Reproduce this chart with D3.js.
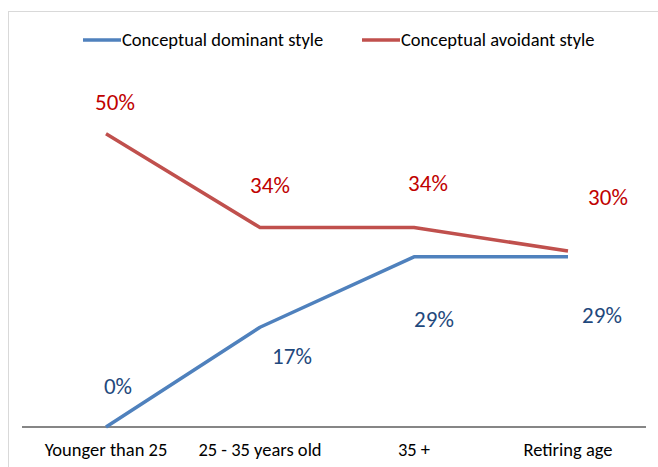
<!DOCTYPE html>
<html>
<head>
<meta charset="utf-8">
<script src="https://cdn.jsdelivr.net/npm/d3@7"></script>
<style>
    body { margin: 0; background: #fff; }
    svg { display: block; font-family: Carlito, Calibri, Lato, sans-serif; }
</style>
</head>
<body>
<div id="chart"></div>
<script>
var categories = ['Younger than 25', '25 - 35 years old', '35 +', 'Retiring age'];
var seriesNames = ['Conceptual dominant style', 'Conceptual avoidant style'];
var dominantValues = [0, 17, 29, 29];
var avoidantValues = [50, 34, 34, 30];

// hand placed label offsets (px) as in the original
var dominantLabelOffsets = [[12, -33], [32, 37], [20, 70], [34, 66]];
var avoidantLabelOffsets = [[9, -24], [10, -35], [14, -37], [40, -46]];

var width = 658,
    height = 467;

var svg = d3.select('#chart')
    .append('svg')
    .attr('width', width)
    .attr('height', height);

// chart border
svg.append('rect')
    .attr('x', 8.5)
    .attr('y', 11.5)
    .attr('width', 700)
    .attr('height', 500)
    .attr('fill', 'none')
    .attr('stroke', '#d9d9d9');

var x = d3.scalePoint()
    .domain(categories)
    .range([106, 568]);

var y = d3.scaleLinear()
    .domain([0, 60])
    .range([427, 75]);

// x axis line
svg.append('line')
    .attr('x1', 22)
    .attr('x2', 646)
    .attr('y1', y(0))
    .attr('y2', y(0))
    .attr('stroke', '#868686')
    .attr('stroke-width', 2);

svg.selectAll('.cat')
    .data(categories)
    .enter()
    .append('text')
    .attr('class', 'cat')
    .attr('x', function(d) { return x(d); })
    .attr('y', 456)
    .attr('text-anchor', 'middle')
    .attr('font-size', 18.5)
    .attr('fill', '#000')
    .text(function(d) { return d; });

var line = d3.line()
    .x(function(d, i) { return x(categories[i]); })
    .y(function(d) { return y(d); });

var series = [
    { name: seriesNames[0], values: dominantValues, color: '#4f81bd', labelColor: '#1f497d', offsets: dominantLabelOffsets },
    { name: seriesNames[1], values: avoidantValues, color: '#c0504d', labelColor: '#c00000', offsets: avoidantLabelOffsets }
];

series.forEach(function(s) {
    svg.append('path')
        .datum(s.values)
        .attr('d', line)
        .attr('fill', 'none')
        .attr('stroke', s.color)
        .attr('stroke-width', 3.5)
        .attr('stroke-linejoin', 'round');

    svg.selectAll(null)
        .data(s.values)
        .enter()
        .append('text')
        .attr('x', function(d, i) { return x(categories[i]) + s.offsets[i][0]; })
        .attr('y', function(d, i) { return y(d) + s.offsets[i][1]; })
        .attr('text-anchor', 'middle')
        .attr('font-size', 23)
        .attr('fill', s.labelColor)
        .text(function(d) { return d + '%'; });
});

// legend
var legendX = [83, 362];
var legend = svg.selectAll('.legend')
    .data(series)
    .enter()
    .append('g')
    .attr('class', 'legend')
    .attr('transform', function(d, i) { return 'translate(' + legendX[i] + ',40)'; });

legend.append('line')
    .attr('x1', 0)
    .attr('x2', 38)
    .attr('stroke', function(d) { return d.color; })
    .attr('stroke-width', 3.5);

legend.append('text')
    .attr('x', 39)
    .attr('y', 6)
    .attr('font-size', 18.5)
    .attr('fill', '#000')
    .text(function(d) { return d.name; });
</script>
</body>
</html>
